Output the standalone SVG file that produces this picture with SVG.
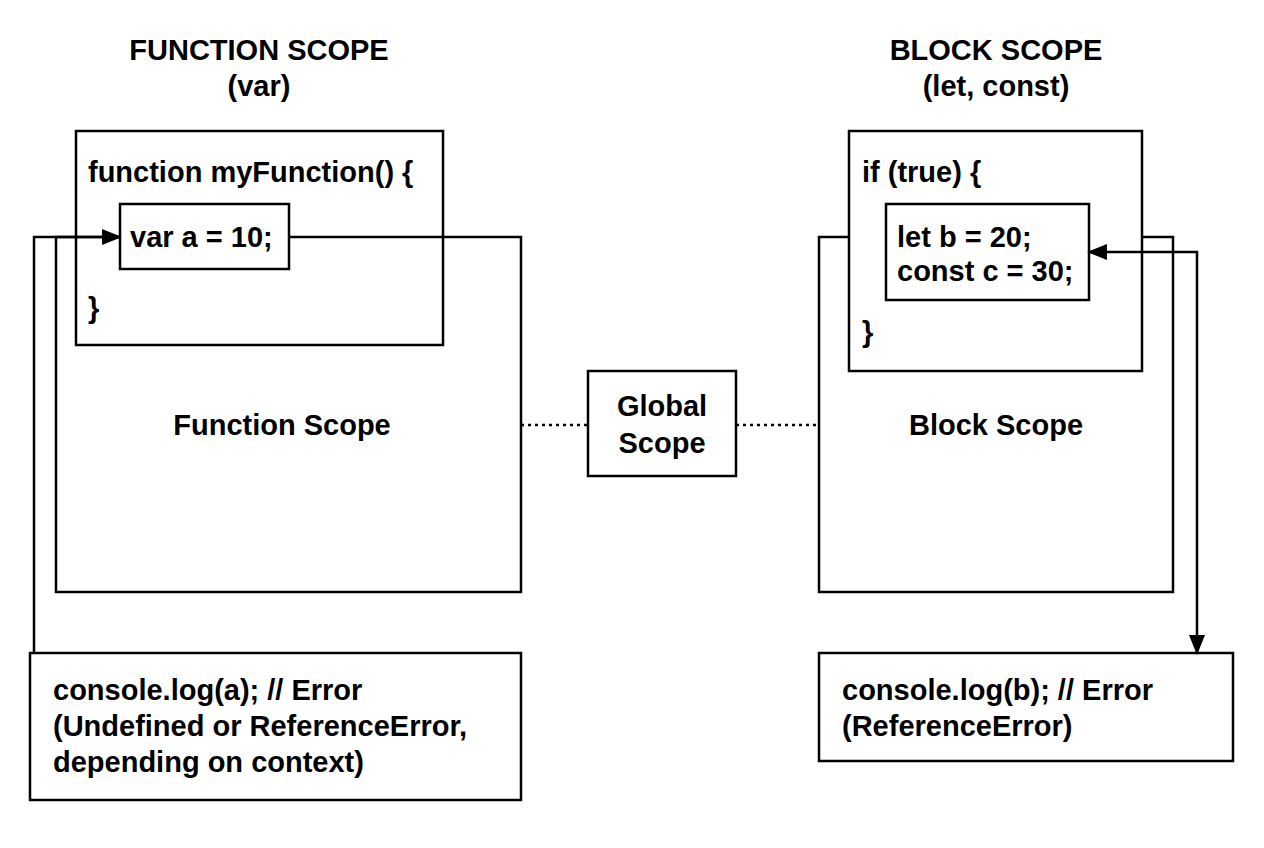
<svg xmlns="http://www.w3.org/2000/svg" width="1264" height="848" viewBox="0 0 1264 848">
<style>
text{font-family:"Liberation Sans",Arial,sans-serif;font-weight:bold;font-size:29px;fill:#000}
.b{fill:none;stroke:#000;stroke-width:2.5}
.w{fill:#fff;stroke:#000;stroke-width:2.5}
.c{fill:none;stroke:#000;stroke-width:2.5}
.d{fill:none;stroke:#000;stroke-width:2.5;stroke-dasharray:3 4}
.m{text-anchor:middle}
</style>
<defs>
<marker id="ah2" markerWidth="20" markerHeight="20" refX="18" refY="10" orient="auto-start-reverse" markerUnits="userSpaceOnUse" viewBox="0 0 20 20"><path d="M0,2L20,10L0,18z"/></marker>
</defs>
<text class="m" x="259" y="60">FUNCTION SCOPE</text>
<text class="m" x="259" y="96">(var)</text>
<text class="m" x="996" y="60">BLOCK SCOPE</text>
<text class="m" x="996" y="96">(let, const)</text>
<g id="functionScope"><rect class="b" x="56" y="237" width="465" height="355"/><text class="m" x="282" y="435">Function Scope</text></g>
<g id="functionBody"><rect class="b" x="76" y="131" width="367" height="214"/><text x="88" y="182">function myFunction() {</text><text x="88" y="318">}</text></g>
<g id="varA"><rect class="w" x="120" y="204" width="169" height="65"/><text x="130" y="247">var a = 10;</text></g>
<g id="blockScope"><rect class="b" x="819" y="237" width="354" height="355"/><text class="m" x="996" y="435">Block Scope</text></g>
<g id="ifBlock"><rect class="w" x="849" y="131" width="293" height="240"/><text x="862" y="182">if (true) {</text><text x="862" y="342">}</text></g>
<g id="letConst"><rect class="w" x="886" y="204" width="203" height="96"/><text x="897" y="247">let b = 20;</text><text x="897" y="281">const c = 30;</text></g>
<g id="global"><rect class="w" x="588" y="371" width="148" height="105"/><text class="m" x="662" y="416">Global</text><text class="m" x="662" y="453">Scope</text></g>
<g id="consoleA"><rect class="w" x="30" y="653" width="491" height="147"/><text x="53" y="700">console.log(a); // Error</text><text x="53" y="736">(Undefined or ReferenceError,</text><text x="53" y="772">depending on context)</text></g>
<g id="consoleB"><rect class="w" x="819" y="653" width="414" height="108"/><text x="842" y="700">console.log(b); // Error</text><text x="842" y="736">(ReferenceError)</text></g>
<g id="connectors">
<path class="c" d="M34,653V237H120" marker-end="url(#ah2)"/>
<path class="c" d="M1089,252H1197V653" marker-start="url(#ah2)" marker-end="url(#ah2)"/>
<path class="d" d="M521,425H588"/>
<path class="d" d="M736,425H819"/>
</g>
</svg>
